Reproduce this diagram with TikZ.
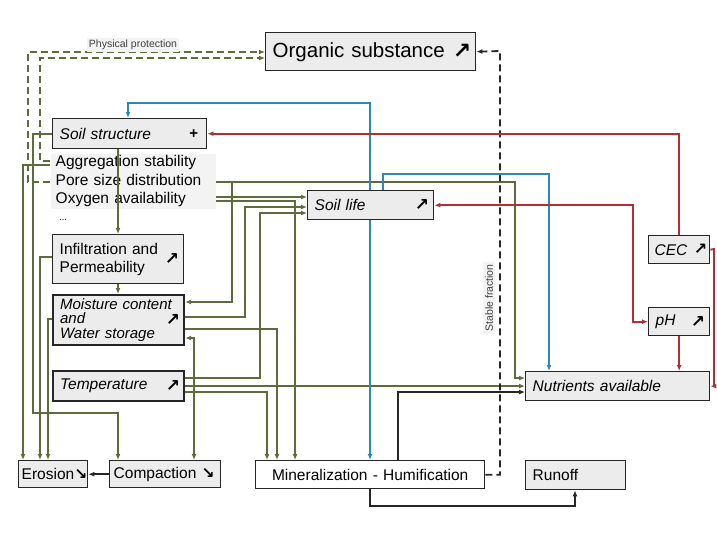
\documentclass[tikz,border=0pt]{standalone}
\usepackage{fontspec}
\setmainfont{Liberation Sans}
\newfontfamily\symfont{DejaVu Sans}
\usetikzlibrary{arrows.meta}

\definecolor{olivel}{RGB}{94,108,60}
\definecolor{bluel}{RGB}{47,134,184}
\definecolor{redl}{RGB}{176,48,56}
\definecolor{boxfill}{RGB}{236,236,236}
\definecolor{listfill}{RGB}{243,243,243}

\newcommand{\up}{{\symfont\bfseries ↗}}
\newcommand{\down}{{\symfont\bfseries ↘}}

\tikzset{
  box/.style={draw=black!85, fill=boxfill, line width=1.4pt, anchor=north west,
    inner xsep=7pt, inner ysep=0pt, align=left, font=\fontsize{15.5}{18}\selectfont},
  it/.style={font=\fontsize{15.5}{18}\selectfont\itshape},
  heavy/.style={line width=2.2pt},
  size/.style 2 args={text width=#1, minimum height=#2},
  sym/.style={label={[anchor=east, inner sep=5pt, font=\fontsize{17}{17}\selectfont]east:\up}},
  note/.style={fill=listfill, text=black!75, inner sep=2pt, font=\fontsize{10.5}{12}\selectfont},
  link/.style={olivel, line width=1.8pt, ->},
  ppath/.style={olivel, line width=1.8pt, dash pattern=on 7pt off 4pt, ->},
  bio/.style={bluel, line width=1.7pt, ->},
  chem/.style={redl, line width=1.9pt, ->},
  flow/.style={black!85, line width=1.8pt, ->},
  stable/.style={black!85, line width=1.8pt, dash pattern=on 7pt off 4pt, ->}
}

\begin{document}
\begin{tikzpicture}[x=1pt, y=-1pt, >={Latex[length=6pt,width=5pt]}]
  \useasboundingbox (0,0) rectangle (717,554);

  % boxes
  \node[box, size={196}{38}, font=\fontsize{20.5}{24}\selectfont,
        label={[anchor=east, inner sep=5pt, font=\fontsize{22}{22}\selectfont]east:\up}] (organic) at (265,32) {Organic substance};
  \node[box, it, size={140}{30}, label={[anchor=east, inner sep=9pt, font=\fontsize{15}{15}\selectfont\bfseries]east:+}] (struct) at (52,118) {Soil structure};
  \node[box, draw=none, fill=listfill, inner xsep=5pt, inner ysep=2pt, text width=155pt,
        font=\fontsize{15.5}{18.5}\selectfont] (props) at (50,153)
        {Aggregation stability\\Pore size distribution\\Oxygen availability};
  \node[font=\fontsize{9}{9}\selectfont] (more) at (63,220) {...};
  \node[box, size={117}{49}, sym] (infil) at (52,234) {Infiltration and\\Permeability};
  \node[box, heavy, size={117}{50}, sym, font=\fontsize{15}{14.5}\selectfont\itshape] (moist) at (52,294)
        {Moisture content\\and\\Water storage};
  \node[box, heavy, it, size={117}{30}, sym] (temp) at (52,370) {Temperature};
  \node[box, it, size={112}{29}, sym] (life) at (307,190) {Soil life};
  \node[box, it, inner xsep=6pt, size={49}{28},
        label={[anchor=east, inner sep=3pt, font=\fontsize{16}{16}\selectfont]east:\up}] (cec) at (648,235) {CEC};
  \node[box, it, size={47}{28}, sym] (ph) at (648,307) {pH};
  \node[box, it, size={170}{29}] (nutr) at (525,371) {Nutrients available};
  \node[box, inner xsep=3pt, size={63}{27}] (eros) at (18,460) {Erosion\down};
  \node[box, inner xsep=4pt, size={103}{27}] (comp) at (109,460) {Compaction \down};
  \node[box, fill=white, align=center, size={215}{28}] (miner) at (255,460) {Mineralization - Humification};
  \node[box, size={86}{29}] (runoff) at (525,460) {Runoff};

  % physical links
  \draw[link] (props.west |- 0,165) -| (eros.north -| 23,0);
  \draw[link] (struct.west) -| (33,413) -| (comp.north -| 118,0);
  \draw[link] (struct.south -| 118,0) -- (infil.north -| 118,0);
  \draw[link] (infil.south -| 118,0) -- (moist.north -| 118,0);
  \draw[link] (infil.west |- 0,257) -| (eros.north -| 40,0);
  \draw[link] (moist.west |- 0,319) -| (eros.north -| 48,0);
  \draw[link] (props.east |- 0,182) -| (515,378) -- (nutr.west |- 0,378);
  \draw[link] (232,182) |- (moist.east |- 0,302);
  \draw[link] (props.east |- 0,197) -- (life.west |- 0,197);
  \draw[link] (props.east |- 0,201) -| (miner.north -| 295,0);
  \draw[link] (moist.east |- 0,317) -| (245,207) -- (life.west |- 0,207);
  \draw[link] (temp.east |- 0,378) -| (260,213) -- (life.west |- 0,213);
  \draw[link] (moist.east |- 0,329) -| (miner.north -| 277,0);
  \draw[link, <->] (comp.north -| 194,0) |- (moist.east |- 0,338);
  \draw[link] (temp.east) -- (nutr.west |- temp.east);
  \draw[link] (temp.east |- 0,392) -| (miner.north -| 267,0);

  % physical protection
  \draw[ppath] (props.west |- 0,182) -| (28,52) -- (organic.west |- 0,52);
  \draw[ppath] (props.west |- 0,161) -| (40,58) -- (organic.west |- 0,58);
  \node[note] (protect) at (133,45) {Physical protection};

  % stable fraction
  \draw[stable] (miner.east) -| (500,51) -- (organic.east);
  \node[note, rotate=90] (stablelbl) at (489,298) {Stable fraction};

  % biological
  \draw[bio] (life.north -| 370,0) |- (128,103) -- (struct.north -| 128,0);
  \draw[bio] (life.south -| 370,0) -- (miner.north -| 370,0);
  \draw[bio] (life.north -| 383,0) |- (549,174) -- (nutr.north -| 549,0);

  % chemical
  \draw[chem] (cec.north) |- (struct.east);
  \draw[chem, <->] (life.east) -- (life.east -| 633,0) |- (ph.west);
  \draw[chem] (ph.south) -- (ph.south |- nutr.north);
  \draw[chem] (cec.east) -- (714,249) |- (nutr.east);

  % flows
  \draw[flow] (comp.west) -- (eros.east);
  \draw[flow] (miner.north -| 398,0) |- (nutr.west |- 0,392);
  \draw[flow] (miner.south -| 370,0) -- (370,506) -| (runoff.south -| 575,0);
\end{tikzpicture}
\end{document}
